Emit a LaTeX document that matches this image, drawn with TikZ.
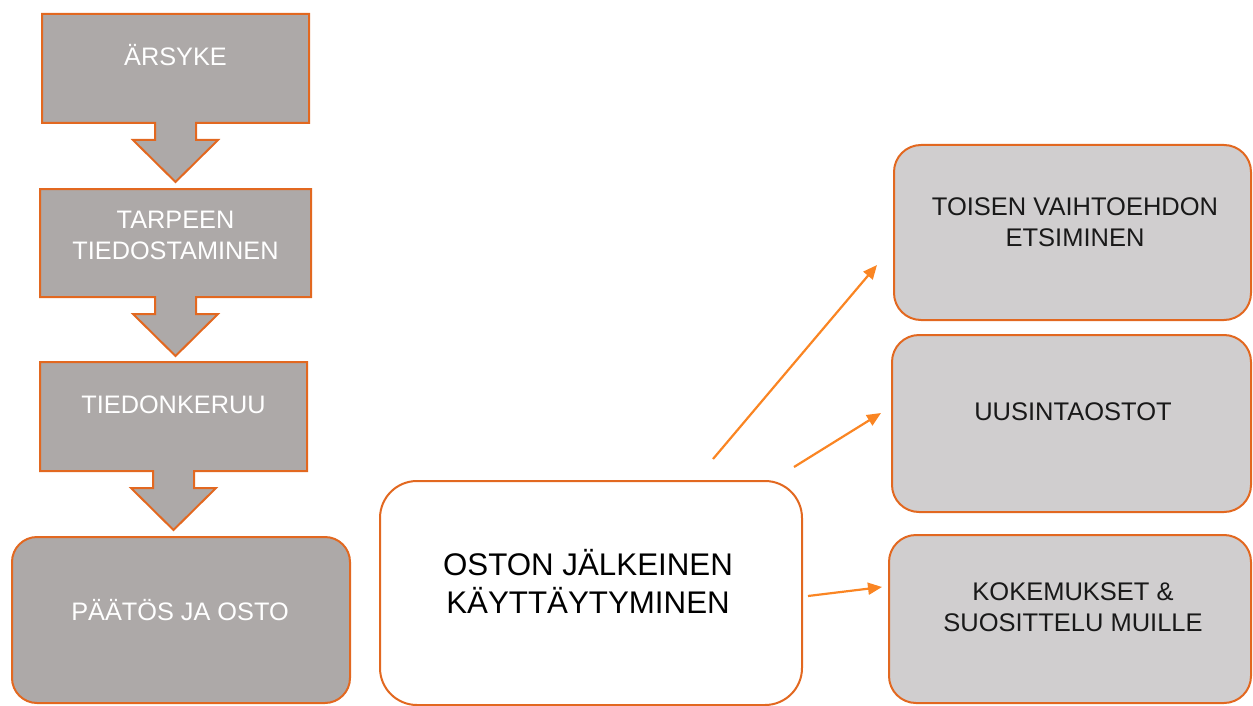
\documentclass[tikz,border=0pt]{standalone}
\usepackage{fontspec}
\setmainfont{Liberation Sans}
\usetikzlibrary{calc,arrows.meta}

\definecolor{edgeorange}{RGB}{226,104,32}
\definecolor{arroworange}{RGB}{250,133,35}
\definecolor{stepgray}{RGB}{173,169,168}
\definecolor{outcomegray}{RGB}{208,206,207}
\definecolor{labelink}{RGB}{25,25,25}

% Box with a block arrow hanging from its bottom edge
\newcommand\blockarrow[1]{%
  \draw[blockshape] (#1.north west) -- (#1.north east) -- (#1.south east)
    -- ($(#1.south)+(20.5,0)$) -- ++(0,17) -- ++(22,0) -- ++(-42.5,42)
    -- ++(-42.5,-42) -- ++(22,0) -- ++(0,-17) -- (#1.south west) -- cycle;}

\tikzset{
  frame/.style={draw=edgeorange, line width=2pt},
  stepbox/.style={rectangle, inner sep=0pt, outer sep=0pt},
  blockshape/.style={frame, fill=stepgray, line join=miter},
  decision/.style={frame, fill=stepgray, rounded corners=25pt, inner sep=0pt},
  outcome/.style={frame, fill=outcomegray, rounded corners=27pt, inner sep=0pt},
  centerbox/.style={frame, fill=white, rounded corners=37pt, inner sep=0pt},
  steplabel/.style={text=white, font=\fontsize{25.3}{31}\selectfont, anchor=base, inner sep=0pt},
  outlabel/.style={text=labelink, font=\fontsize{25.5}{31}\selectfont, anchor=base, inner sep=0pt},
  mainlabel/.style={text=black, font=\fontsize{31.3}{38}\selectfont, anchor=base, inner sep=0pt},
  conn/.style={draw=arroworange, line width=2.2pt, -{Triangle[length=14pt,width=12pt]}},
}

\begin{document}
\begin{tikzpicture}[x=1pt,y=-1pt]
\useasboundingbox (0,0) rectangle (1253,706);

% purchase process steps
\node[stepbox, minimum width=267pt, minimum height=109pt] (b1) at (175.5,68.5) {};
\node[stepbox, minimum width=271pt, minimum height=108pt] (b2) at (175.5,243) {};
\node[stepbox, minimum width=267pt, minimum height=109pt] (b3) at (173.5,416.5) {};
\blockarrow{b1}
\blockarrow{b2}
\blockarrow{b3}
\node[decision, minimum width=338pt, minimum height=166pt] (b4) at (181,620) {};

\node[steplabel] (t1) at (175.5,65.5) {ÄRSYKE};
\node[steplabel] (t2) at (175.5,259) {\begin{tabular}[b]{@{}c@{}}TARPEEN\\TIEDOSTAMINEN\end{tabular}};
\node[steplabel] (t3) at (173.5,413) {TIEDONKERUU};
\node[steplabel] (t4) at (180,620) {PÄÄTÖS JA OSTO};

% post-purchase behaviour and its outcomes
\node[centerbox, minimum width=422pt, minimum height=224pt] (c) at (591,593) {};
\node[mainlabel] (ct) at (588,613) {\begin{tabular}[b]{@{}c@{}}OSTON JÄLKEINEN\\KÄYTTÄYTYMINEN\end{tabular}};

\node[outcome, minimum width=357pt, minimum height=175pt] (r1) at (1072.5,232.5) {};
\node[outcome, minimum width=359pt, minimum height=177pt] (r2) at (1071.5,423.5) {};
\node[outcome, minimum width=362pt, minimum height=168pt] (r3) at (1070,619) {};

\node[outlabel] (o1) at (1075,246.5) {\begin{tabular}[b]{@{}c@{}}TOISEN VAIHTOEHDON\\ETSIMINEN\end{tabular}};
\node[outlabel] (o2) at (1073,420) {UUSINTAOSTOT};
\node[outlabel] (o3) at (1073,631.5) {\begin{tabular}[b]{@{}c@{}}KOKEMUKSET \&\\SUOSITTELU MUILLE\end{tabular}};

% connectors
\draw[conn] ($(c.north east)+(-90,-21)$) -- ($(r1.west)+(-16,32.5)$);
\draw[conn] ($(c.north east)+(-9,-13)$) -- ($(r2.west)+(-10,-10.5)$);
\draw[conn] ($(c.east)+(5,3)$) -- ($(r3.west)+(-6,-32)$);
\end{tikzpicture}
\end{document}
